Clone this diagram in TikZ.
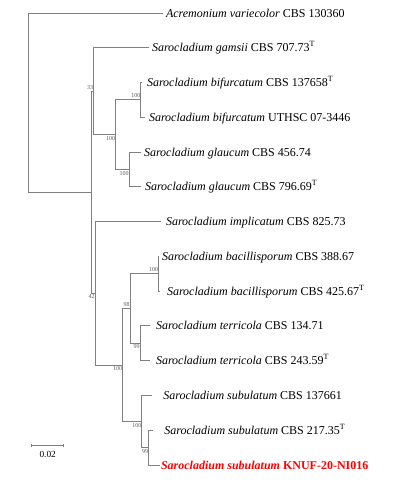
\documentclass[tikz,border=0pt]{standalone}
\usepackage{fontspec}
\setmainfont{Liberation Serif}
\usetikzlibrary{arrows.meta}
\definecolor{brgray}{RGB}{128,128,128}
\definecolor{bsgray}{RGB}{90,90,90}
\definecolor{knufred}{RGB}{255,0,0}
\begin{document}
\begin{tikzpicture}[x=0.75pt,y=-0.75pt,
  br/.style={draw=brgray,line width=0.75pt},
  tx/.style={anchor=west,inner sep=0pt,outer xsep=2.25pt,text height=6pt,text depth=0pt,font=\fontsize{9}{10}\selectfont},
  bs/.style={anchor=east,inner sep=0pt,text=bsgray,font=\fontsize{4.5}{5}\selectfont},
  bu/.style={bs,yshift=3pt},
  bd/.style={bs,yshift=-2.7pt}]
\useasboundingbox (0,0) rectangle (410,482);
\coordinate(root) at(28,102.65);
\coordinate(n1)   at(91.7,192.3);
\coordinate(n33)  at(93.3,91.25);
\coordinate(na)   at(115.3,134.7);
\coordinate(nbif) at(140.7,99.9);
\coordinate(nglau)at(129,169.5);
\coordinate(n42)  at(95,293.3);
\coordinate(nb)   at(122.3,365.05);
\coordinate(n98)  at(130,308.55);
\coordinate(nbac) at(158.3,273.8);
\coordinate(nter) at(140,343.3);
\coordinate(nsub) at(141.7,421.55);
\coordinate(n99)  at(148.3,447.6);
\node[tx](acr)  at(163,13){\textit{Acremonium variecolor} CBS 130360};
\node[tx](gam)  at(149,47.8){\textit{Sarocladium gamsii} CBS 707.73\textsuperscript{T}};
\node[tx,outer xsep=3.75pt](bif1) at(142,82.5){\textit{Sarocladium bifurcatum} CBS 137658\textsuperscript{T}};
\node[tx,outer xsep=3pt](bif2) at(145,117.3){\textit{Sarocladium bifurcatum} UTHSC 07-3446};
\node[tx](gla1) at(141,152.1){\textit{Sarocladium glaucum} CBS 456.74};
\node[tx,outer xsep=3pt](gla2) at(141,186.9){\textit{Sarocladium glaucum} CBS 796.69\textsuperscript{T}};
\node[tx,outer xsep=3.75pt](imp) at(161,221.6){\textit{Sarocladium implicatum} CBS 825.73};
\node[tx](bac1) at(159,256.4){\textit{Sarocladium bacillisporum} CBS 388.67};
\node[tx,outer xsep=5.25pt](bac2) at(160,291.2){\textit{Sarocladium bacillisporum} CBS 425.67\textsuperscript{T}};
\node[tx,outer xsep=4.5pt](ter1) at(150,325.9){\textit{Sarocladium terricola} CBS 134.71};
\node[tx,outer xsep=4.5pt](ter2) at(150,360.7){\textit{Sarocladium terricola} CBS 243.59\textsuperscript{T}};
\node[tx,outer xsep=8.25pt](sub1) at(152.3,395.5){\textit{Sarocladium subulatum} CBS 137661};
\node[tx,outer xsep=8.25pt](sub2) at(153.3,430.2){\textit{Sarocladium subulatum} CBS 217.35\textsuperscript{T}};
\node[tx,outer xsep=0.75pt,text=knufred](knuf) at(160,465){\bfseries\textit{Sarocladium subulatum} KNUF-20-NI016};
\draw[br](root)|-(acr) (root)|-(n1);
\draw[br](n1)|-(n33) (n1)|-(n42);
\draw[br](n33)|-(gam) (n33)|-(na);
\draw[br](na)|-(nbif) (na)|-(nglau);
\draw[br](nbif)|-(bif1) (nbif)|-(bif2);
\draw[br](nglau)|-(gla1) (nglau)|-(gla2);
\draw[br](n42)|-(imp) (n42)|-(nb);
\draw[br](nb)|-(n98) (nb)|-(nsub);
\draw[br](n98)|-(nbac) (n98)|-(nter);
\draw[br](nbac)|-(bac1) (nbac)|-(bac2);
\draw[br](nter)|-(ter1) (nter)|-(ter2);
\draw[br](nsub)|-(sub1) (nsub)|-(n99);
\draw[br](n99)|-(sub2) (n99)|-(knuf);
\node[bu](b33)   at(n33){33};
\node[bd](bna)   at(na){100};
\node[bu](bbif)  at(nbif){100};
\node[bd](bglau) at(nglau){100};
\node[bd](b42)   at(n42){42};
\node[bd](bnb)   at(nb){100};
\node[bu](b98)   at(n98){98};
\node[bu](bbac)  at(nbac){100};
\node[bd](bter)  at(nter){99};
\node[bd](bsub)  at(nsub){100};
\node[bd](b99)   at(n99){99};
\coordinate(sbl) at(31,445.7);
\coordinate(sbr) at(64.3,445.7);
\draw[br,{Bar[width=2.5pt]}-{Bar[width=2.5pt]}](sbl)--(sbr);
\node[inner sep=0pt,font=\fontsize{7}{8}\selectfont](sblab) at(47.7,454){0.02};
\end{tikzpicture}
\end{document}
